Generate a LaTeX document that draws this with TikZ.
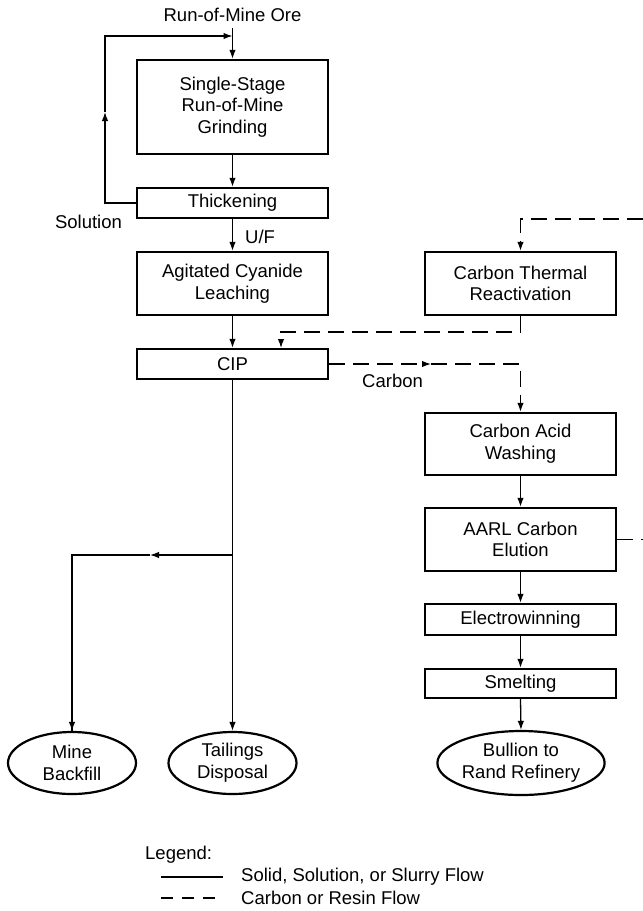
\documentclass[tikz,border=0pt]{standalone}
\usepackage{fontspec}
\setmainfont{Liberation Sans}
\usetikzlibrary{arrows.meta,shapes.geometric}
\begin{document}
\begin{tikzpicture}[x=1pt,y=-1pt,
  txt/.style={font=\fontsize{18.5}{21.7}\selectfont, align=center, inner sep=0pt},
  box/.style={txt, draw, line width=2.3pt, minimum width=191pt},
  term/.style={txt, draw, ellipse, line width=2.2pt, minimum width=128pt, minimum height=62pt},
  flow/.style={line width=1.3pt, -{Latex[length=9pt,width=6.5pt]}},
  plain/.style={line width=1.3pt},
  carbon/.style={line width=1.3pt, dash pattern=on 16pt off 8pt},
  carbonarrow/.style={carbon, -{Latex[length=9pt,width=6.5pt]}}]
\useasboundingbox (0,0) rectangle (643,911);

% ---- left train: grinding to CIP ----
\node[txt] (ore) at (232.5,15) {Run-of-Mine Ore};
\coordinate (feed) at (232.5,28);
\node[box, minimum height=94pt] (grind) at (232.5,107) {Single-Stage\\Run-of-Mine\\Grinding};
\node[box, minimum height=30pt] (thick) at (232.5,203) {Thickening};
\node[box, minimum height=63pt] (leach) at (232.5,283.5) {Agitated Cyanide\\Leaching};
\node[box, minimum height=30pt] (cip) at (232.5,364) {CIP};

\node[txt] (sol) at (88.5,222) {Solution};
\node[txt, anchor=west] (uf) at (245,237) {U/F};

% ---- right train: carbon circuit ----
\node[box, minimum height=63pt] (react) at (520.5,283.5) {Carbon Thermal\\Reactivation};
\node[box, minimum height=62pt] (wash) at (520.5,444) {Carbon Acid\\Washing};
\node[box, minimum height=63pt] (elut) at (520.5,539.5) {AARL Carbon\\Elution};
\node[box, minimum height=31pt] (ew) at (520.5,619.5) {Electrowinning};
\node[box, minimum height=29pt] (smelt) at (520.5,683.5) {Smelting};
\node[txt, anchor=west] (carb) at (362,381) {Carbon};

% ---- final products ----
\node[term] (backfill) at (72,763) {Mine\\Backfill};
\node[term] (tails) at (232.5,763) {Tailings\\Disposal};
\node[term, minimum width=159pt, minimum height=64pt] (bullion) at (521,763) {Bullion to\\Rand Refinery};

% ---- solid / solution / slurry flows ----
\draw[flow] (feed) -- (grind.north);
\coordinate (fbup) at (105,112);
\coordinate (fbtop) at (232.5,36);
\draw[flow] (thick.west) -| (fbup);
\draw[plain] (fbup) -- (105,36) -- (150,36);
\draw[flow] (150,36) -- (fbtop);
\draw[flow] (grind.south) -- (thick.north);
\draw[flow] (thick.south) -- (leach.north);
\draw[flow] (leach.south) -- (cip.north);
\draw[flow] (cip.south) -- (tails.north);

\coordinate (split) at (232.5,555);
\coordinate (splitarrow) at (150,555);
\draw[flow] (split) -- (splitarrow);
\draw[plain] (splitarrow) -| (backfill.north);
\draw[flow] (72,700) -- (backfill.north);

\draw[flow] (wash.south) -- (elut.north);
\draw[flow] (elut.south) -- (ew.north);
\draw[flow] (ew.south) -- (smelt.north);
\draw[flow] (smelt.south) -- (bullion.north);

% ---- carbon flows ----
\coordinate (recyc) at (643,219);
\draw[carbonarrow] (recyc) -| (react.north);
\coordinate (regen) at (281,332);
\draw[carbonarrow] (react.south) |- (regen) -- (281,348);
\coordinate (loadmid) at (431,364);
\draw[carbonarrow] (cip.east) -- (loadmid);
\draw[carbonarrow] (loadmid) -| (wash.north);
\coordinate (strip) at (643,539.5);
\draw[carbon] (elut.east) -- (strip);

% ---- legend ----
\node[txt, anchor=west] (leg) at (145,855) {Legend:};
\node[txt, anchor=west] (legsolid) at (241,877) {Solid, Solution, or Slurry Flow};
\node[txt, anchor=west] (legcarbon) at (241,898) {Carbon or Resin Flow};
\draw[plain] (161,877) -- (223,877);
\draw[line width=1.3pt, dash pattern=on 12pt off 9pt] (161,898) -- (223,898);
\end{tikzpicture}
\end{document}
